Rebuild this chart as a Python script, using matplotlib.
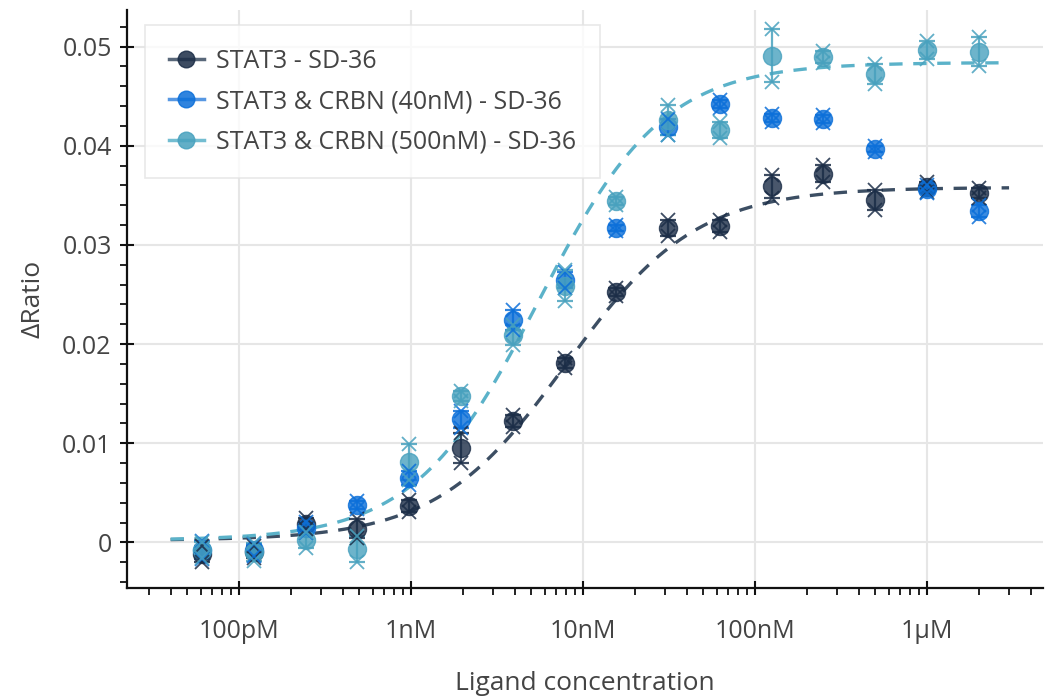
import numpy as np
import matplotlib
matplotlib.use("Agg")
import matplotlib.pyplot as plt
from matplotlib.lines import Line2D
from matplotlib.ticker import FixedLocator, FuncFormatter, MultipleLocator, LogLocator, NullFormatter

plt.rcParams['font.family'] = ['Open Sans', 'DejaVu Sans']

# ligand concentrations (M), 2-fold dilution series
conc = [61.0e-12, 122e-12, 244e-12, 488e-12, 977e-12, 1.95e-9, 3.91e-9, 7.81e-9,
        15.6e-9, 31.3e-9, 62.5e-9, 125e-9, 250e-9, 500e-9, 1.0e-6, 2.0e-6]

# replicate dRatio values (high / low replicate per concentration)
stat3_hi = [-0.0004, -0.0004, 0.0025, 0.0024, 0.0043, 0.0110, 0.0128, 0.0186,
            0.0257, 0.0325, 0.0325, 0.0371, 0.0381, 0.0355, 0.0363, 0.0357]
stat3_lo = [-0.0020, -0.0016, 0.0013, 0.0004, 0.0031, 0.0080, 0.0116, 0.0176,
            0.0249, 0.0309, 0.0313, 0.0347, 0.0363, 0.0335, 0.0353, 0.0347]

crbn40_hi = [0.0001, -0.0002, 0.0021, 0.0042, 0.0072, 0.0133, 0.0234, 0.0273,
             0.0320, 0.0427, 0.0446, 0.0432, 0.0431, 0.0400, 0.0360, 0.0340]
crbn40_lo = [-0.0017, -0.0014, 0.0009, 0.0034, 0.0058, 0.0115, 0.0214, 0.0257,
             0.0314, 0.0411, 0.0438, 0.0424, 0.0423, 0.0394, 0.0352, 0.0328]

crbn500_hi = [0.0000, -0.0001, 0.0010, 0.0006, 0.0099, 0.0153, 0.0219, 0.0275,
              0.0348, 0.0441, 0.0424, 0.0518, 0.0496, 0.0482, 0.0506, 0.0510]
crbn500_lo = [-0.0016, -0.0019, -0.0006, -0.0020, 0.0063, 0.0143, 0.0199, 0.0243,
              0.0340, 0.0411, 0.0408, 0.0464, 0.0484, 0.0462, 0.0488, 0.0480]

# dose-response fit parameters: bottom, top, EC50 (M), Hill slope
fit_stat3 = (0.0002, 0.0358, 8.0e-9, 1.15)
fit_crbn500 = (0.0002, 0.0484, 5.5e-9, 1.2)
fit_range = (4.0e-11, 3.0e-6)

labels = ['STAT3 - SD-36', 'STAT3 & CRBN (40nM) - SD-36', 'STAT3 & CRBN (500nM) - SD-36']
colors = ['#1b2d47', '#0b6fd9', '#48a1be']
line_colors = ['#3c4e63', '#3a86de', '#5bb2c9']

x_ticks = [1e-10, 1e-9, 1e-8, 1e-7, 1e-6]
x_ticklabels = ['100pM', '1nM', '10nM', '100nM', '1µM']


def hill(c, bottom, top, ec50, h):
    return bottom + (top - bottom) / (1 + (ec50 / c) ** h)


fig = plt.figure(figsize=(10.45, 6.97), dpi=100)
ax = fig.add_axes([0.1215, 0.1564, 0.8765, 0.8293])

x = np.array(conc)
series = [(stat3_hi, stat3_lo), (crbn40_hi, crbn40_lo), (crbn500_hi, crbn500_lo)]

# fitted curves
xf = np.logspace(np.log10(fit_range[0]), np.log10(fit_range[1]), 300)
ax.plot(xf, hill(xf, *fit_stat3), ls=(0, (4, 3.2)), lw=2.4, color=line_colors[0], zorder=2)
ax.plot(xf, hill(xf, *fit_crbn500), ls=(0, (4, 3.2)), lw=2.4, color=line_colors[2], zorder=2)

for (hi, lo), col in zip(series, colors):
    hi = np.array(hi)
    lo = np.array(lo)
    mean = (hi + lo) / 2
    err = (hi - lo) / 2
    ax.errorbar(x, mean, yerr=err, fmt='none', ecolor=col, elinewidth=1.6,
                capsize=6, capthick=1.6, alpha=0.85, zorder=3)
    ax.plot(x, mean, 'o', ms=13, color=col, mec=col, alpha=0.8, zorder=4)
    ax.plot(x, hi, 'x', ms=10, mew=1.3, color=col, alpha=0.85, zorder=5)
    ax.plot(x, lo, 'x', ms=10, mew=1.3, color=col, alpha=0.85, zorder=5)

ax.set_xscale('log')
ax.set_xlim(2.23e-11, 4.72e-6)
ax.set_ylim(-0.0046, 0.0537)

ax.xaxis.set_major_locator(FixedLocator(x_ticks))
ax.set_xticklabels(x_ticklabels)
ax.xaxis.set_minor_locator(LogLocator(base=10, subs=np.arange(2, 10)))
ax.xaxis.set_minor_formatter(NullFormatter())
ax.yaxis.set_major_locator(MultipleLocator(0.01))
ax.yaxis.set_minor_locator(MultipleLocator(0.002))
ax.yaxis.set_major_formatter(FuncFormatter(lambda v, p: '0' if abs(v) < 1e-9 else f'{v:.2f}'))

ax.grid(True, which='major', color='#e6e6e6', lw=1.5, zorder=0)
ax.set_axisbelow(True)
for s in ['top', 'right']:
    ax.spines[s].set_visible(False)
for s in ['left', 'bottom']:
    ax.spines[s].set_linewidth(1.6)
    ax.spines[s].set_color('#111111')

ax.tick_params(which='major', direction='inout', length=10, width=1.5, colors='#111111',
               labelsize=18, labelcolor='#444444', pad=6)
ax.tick_params(which='minor', direction='out', length=5, width=1.3, colors='#111111')
ax.tick_params(axis='x', which='major', pad=17)

ax.set_xlabel('Ligand concentration', fontsize=19, color='#444444', labelpad=20)
ax.set_ylabel('ΔRatio', fontsize=19, color='#444444', labelpad=12)

handles = [Line2D([], [], color=lc, lw=2.5, marker='o', ms=12, mfc=c, mec=c, alpha=0.85)
           for c, lc in zip(colors, line_colors)]
leg = ax.legend(handles, labels, loc='upper left', bbox_to_anchor=(0.0197, 0.974),
                borderaxespad=0, fontsize=18, frameon=True, fancybox=False,
                handlelength=1.4, labelspacing=0.62, borderpad=0.95, handletextpad=0.5)
leg.get_frame().set_edgecolor('#e3e3e3')
leg.get_frame().set_linewidth(1.2)
for t in leg.get_texts():
    t.set_color('#444444')

fig.savefig('out.png', dpi=100)
